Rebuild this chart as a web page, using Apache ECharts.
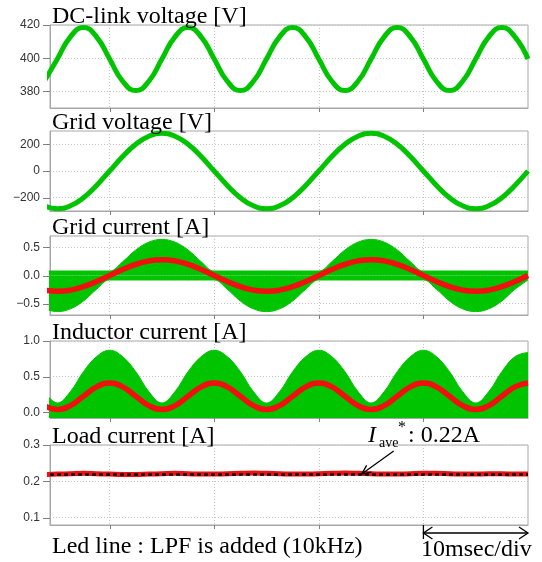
<!DOCTYPE html>
<html>
<head>
<meta charset="utf-8">
<title>PFC waveforms</title>
<script src="https://cdn.jsdelivr.net/npm/echarts@6/dist/echarts.min.js"></script>
<style>
    html, body { margin: 0; padding: 0; background: #fff; }
    #chart { width: 542px; height: 562px; }
</style>
</head>
<body>
<div id="chart"></div>
<script>
    // time axis [ms], one sample every 1.25 ms
    var timeMs = [-6.25, -5, -3.75, -2.5, -1.25, 0, 1.25, 2.5, 3.75, 5, 6.25, 7.5, 8.75, 10,
        11.25, 12.5, 13.75, 15, 16.25, 17.5, 18.75, 20, 21.25, 22.5, 23.75, 25, 26.25, 27.5,
        28.75, 30, 31.25, 32.5, 33.75, 35, 36.25, 37.5, 38.75, 40];

    var dcLinkV = [386.1, 399.5, 412.9, 418.5, 412.9, 399.5, 386.1, 380.5,
        386.1, 399.5, 412.9, 418.5, 412.9, 399.5, 386.1, 380.5,
        386.1, 399.5, 412.9, 418.5, 412.9, 399.5, 386.1, 380.5,
        386.1, 399.5, 412.9, 418.5, 412.9, 399.5, 386.1, 380.5,
        386.1, 399.5, 412.9, 418.5, 412.9, 399.5];

    var gridV = [-261, -283, -261, -200, -108, 0, 108, 200, 261, 283, 261, 200, 108, 0,
        -108, -200, -261, -283, -261, -200, -108, 0, 108, 200, 261, 283, 261, 200, 108, 0,
        -108, -200, -261, -283, -261, -200, -108, 0];

    // green band of the switching current (upper / lower envelope)
    var gridIUpper = [0.08, 0.08, 0.08, 0.08, 0.08, 0.08, 0.245, 0.452, 0.591, 0.64, 0.591, 0.452, 0.245,
        0.08, 0.08, 0.08, 0.08, 0.08, 0.08, 0.08, 0.08, 0.08, 0.245, 0.452, 0.591, 0.64, 0.591, 0.452,
        0.245, 0.08, 0.08, 0.08, 0.08, 0.08, 0.08, 0.08, 0.08, 0.08];
    var gridILower = [-0.591, -0.64, -0.591, -0.452, -0.245, -0.08, -0.08, -0.08, -0.08, -0.08, -0.08,
        -0.08, -0.08, -0.08, -0.245, -0.452, -0.591, -0.64, -0.591, -0.452, -0.245, -0.08, -0.08, -0.08,
        -0.08, -0.08, -0.08, -0.08, -0.08, -0.08, -0.245, -0.452, -0.591, -0.64, -0.591, -0.452, -0.245, -0.08];
    // red: after LPF
    var gridILpf = [-0.259, -0.28, -0.259, -0.198, -0.107, 0, 0.107, 0.198, 0.259, 0.28, 0.259, 0.198, 0.107, 0,
        -0.107, -0.198, -0.259, -0.28, -0.259, -0.198, -0.107, 0, 0.107, 0.198, 0.259, 0.28, 0.259, 0.198, 0.107, 0,
        -0.107, -0.198, -0.259, -0.28, -0.259, -0.198, -0.107, 0];

    var indIUpper = [0.29, 0.13, 0.29, 0.57, 0.78, 0.87, 0.78, 0.57, 0.29, 0.13, 0.29, 0.57, 0.78, 0.87,
        0.78, 0.57, 0.29, 0.13, 0.29, 0.57, 0.78, 0.87, 0.78, 0.57, 0.29, 0.13, 0.29, 0.57, 0.78, 0.87,
        0.78, 0.57, 0.29, 0.13, 0.29, 0.57, 0.78, 0.84];
    var indILpf = [0.094, 0.04, 0.094, 0.225, 0.356, 0.41, 0.356, 0.225, 0.094, 0.04, 0.094, 0.225, 0.356, 0.41,
        0.356, 0.225, 0.094, 0.04, 0.094, 0.225, 0.356, 0.41, 0.356, 0.225, 0.094, 0.04, 0.094, 0.225, 0.356, 0.41,
        0.356, 0.225, 0.094, 0.04, 0.094, 0.225, 0.356, 0.41];

    var loadI = [0.219, 0.220, 0.221, 0.222, 0.221, 0.220, 0.219, 0.219, 0.220, 0.221, 0.222, 0.221, 0.220,
        0.220, 0.221, 0.222, 0.223, 0.222, 0.221, 0.220, 0.220, 0.221, 0.222, 0.223, 0.222, 0.221, 0.220,
        0.220, 0.221, 0.222, 0.222, 0.221, 0.220, 0.220, 0.221, 0.221, 0.220, 0.220];
    var iAve = 0.22;

    var panelTitles = ['DC-link voltage [V]', 'Grid voltage [V]', 'Grid current [A]',
        'Inductor current [A]', 'Load current [A]'];
    var yRanges = [[370, 420], [-300, 300], [-0.7, 0.7], [-0.08, 1.0], [0.08, 0.3]];
    var yTicks = [[380, 400, 420], [-200, 0, 200], [-0.5, 0, 0.5], [0, 0.5, 1.0], [0.1, 0.2, 0.3]];
    var yDecimals = [0, 0, 1, 1, 1];
    var xRange = [-5.7, 40];
    var xTicks = [0, 10, 20, 30];

    // layout (px)
    var gridTops = [25, 131, 236, 341, 445];
    var gridBottoms = [108, 211, 315, 418, 525];
    var GREEN = '#00c400', RED = '#f01010', FRAME = '#a8a8a8', TICK = '#808080';
    var serif = '"Liberation Serif", "Times New Roman", serif';

    function pairs(ys) {
        return timeMs.map(function (x, i) { return [x, ys[i]]; });
    }

    var grids = [], xAxes = [], yAxes = [];
    for (var k = 0; k < 5; k++) {
        grids.push({
            left: 50, right: 14, top: gridTops[k], height: gridBottoms[k] - gridTops[k],
            show: true, borderColor: FRAME, borderWidth: 1, backgroundColor: 'transparent'
        });
        xAxes.push({
            type: 'value', gridIndex: k, min: xRange[0], max: xRange[1],
            axisLine: { show: true, onZero: false, lineStyle: { color: FRAME, width: 1 } },
            axisLabel: { show: false },
            axisTick: { show: false, customValues: xTicks },
            splitLine: { show: true, lineStyle: { color: '#c4c4c4', width: 1, type: [1, 2] } }
        });
        (function (dec) {
            yAxes.push({
                type: 'value', gridIndex: k, min: yRanges[k][0], max: yRanges[k][1],
                axisLine: { show: true, onZero: false, lineStyle: { color: FRAME, width: 1 } },
                axisTick: { show: false, customValues: yTicks[k] },
                axisLabel: {
                    customValues: yTicks[k], margin: 10, color: '#333',
                    fontFamily: '"Liberation Sans", Arial, sans-serif', fontSize: 12,
                    formatter: function (v) { return v.toFixed(dec).replace('-', '\u2212'); }
                },
                splitLine: { show: true, lineStyle: { color: '#c4c4c4', width: 1, type: [1, 2] } }
            });
        })(yDecimals[k]);
    }

    function wave(idx, ys, color, width) {
        return {
            type: 'line', xAxisIndex: idx, yAxisIndex: idx, data: pairs(ys),
            smooth: true, showSymbol: false, symbol: 'none', z: 3,
            lineStyle: { color: color, width: width }
        };
    }
    function band(idx, ys, origin) {
        return {
            type: 'line', xAxisIndex: idx, yAxisIndex: idx, data: pairs(ys),
            smooth: 0.4, showSymbol: false, symbol: 'none', z: 2,
            lineStyle: { color: GREEN, width: 1 },
            areaStyle: { color: GREEN, opacity: 1, origin: origin }
        };
    }

    var loadSeries = wave(4, loadI, RED, 5);
    loadSeries.markLine = {
        silent: true, symbol: 'none', label: { show: false },
        lineStyle: { color: '#000', width: 2.5, type: [4, 3] },
        data: [{ yAxis: iAve }]
    };

    var series = [
        wave(0, dcLinkV, GREEN, 5),
        wave(1, gridV, GREEN, 5),
        band(2, gridIUpper, 'auto'),
        band(2, gridILower, 'auto'),
        wave(2, gridILpf, RED, 5.5),
        band(3, indIUpper, 'start'),
        wave(3, indILpf, RED, 5.5),
        loadSeries
    ];

    var texts = [];
    for (var p = 0; p < 5; p++) {
        texts.push({
            type: 'text', x: 52, y: gridTops[p] + 4, z: 10,
            style: { text: panelTitles[p], font: '24px ' + serif, fill: '#000',
                align: 'left', verticalAlign: 'bottom', textAlign: 'left', textVerticalAlign: 'bottom' }
        });
    }
    function label(str, x, y, size, italic) {
        return {
            type: 'text', x: x, y: y, z: 10,
            style: { text: str, font: (italic ? 'italic ' : '') + size + 'px ' + serif, fill: '#000',
                align: 'left', verticalAlign: 'bottom', textAlign: 'left', textVerticalAlign: 'bottom' }
        };
    }
    texts.push(label('I', 368, 448, 24, true));
    texts.push(label('ave', 379, 450, 14, false));
    texts.push(label('*', 398, 436, 16, false));
    texts.push(label(': 0.22A', 408, 448, 24, false));
    texts.push(label('Led line : LPF is added (10kHz)', 52, 559, 24, false));
    texts.push(label('10msec/div', 421, 562, 24, false));

    var chart = echarts.init(document.getElementById('chart'), null, { renderer: 'canvas' });
    chart.setOption({
        animation: false,
        backgroundColor: '#fff',
        grid: grids,
        xAxis: xAxes,
        yAxis: yAxes,
        series: series,
        graphic: texts
    });

    // small frame ticks, placed from the axes' own scales
    var marks = [];
    var thin = { stroke: TICK, lineWidth: 1 };
    for (var g = 0; g < 5; g++) {
        yTicks[g].forEach(function (v) {
            var pt = chart.convertToPixel({ gridIndex: g }, [xRange[0], v]);
            var yy = Math.round(pt[1]) + 0.5;
            marks.push({ type: 'line', z: 9, shape: { x1: pt[0] - 7, y1: yy, x2: pt[0], y2: yy }, style: thin });
        });
        xTicks.forEach(function (v) {
            var pt = chart.convertToPixel({ gridIndex: g }, [v, yRanges[g][0]]);
            var xx = Math.round(pt[0]) + 0.5;
            marks.push({ type: 'line', z: 9, shape: { x1: xx, y1: pt[1], x2: xx, y2: pt[1] + 4 }, style: thin });
        });
    }

    // arrows placed from data coordinates
    var tip = chart.convertToPixel({ gridIndex: 4 }, [24.1, iAve]);
    var a = chart.convertToPixel({ gridIndex: 4 }, [30, 0.08]);
    var b = chart.convertToPixel({ gridIndex: 4 }, [40, 0.08]);
    var ay = a[1] + 8;
    var blk = { stroke: '#000', lineWidth: 1.3, fill: null };
    chart.setOption({
        graphic: texts.concat(marks, [
            { type: 'line', z: 10, shape: { x1: tip[0] + 32, y1: tip[1] - 23, x2: tip[0], y2: tip[1] }, style: blk },
            { type: 'polyline', z: 10, shape: { points: [[tip[0] + 9.8, tip[1] - 1.9], [tip[0], tip[1]], [tip[0] + 4.9, tip[1] - 8.7]] }, style: blk },
            { type: 'line', z: 10, shape: { x1: a[0], y1: ay, x2: b[0], y2: ay }, style: blk },
            { type: 'line', z: 10, shape: { x1: a[0], y1: a[1], x2: a[0], y2: ay + 6 }, style: blk },
            { type: 'polyline', z: 10, shape: { points: [[a[0] + 9, ay - 6], [a[0], ay], [a[0] + 9, ay + 6]] }, style: blk },
            { type: 'polyline', z: 10, shape: { points: [[b[0] - 9, ay - 6], [b[0], ay], [b[0] - 9, ay + 6]] }, style: blk }
        ])
    });
</script>
</body>
</html>
